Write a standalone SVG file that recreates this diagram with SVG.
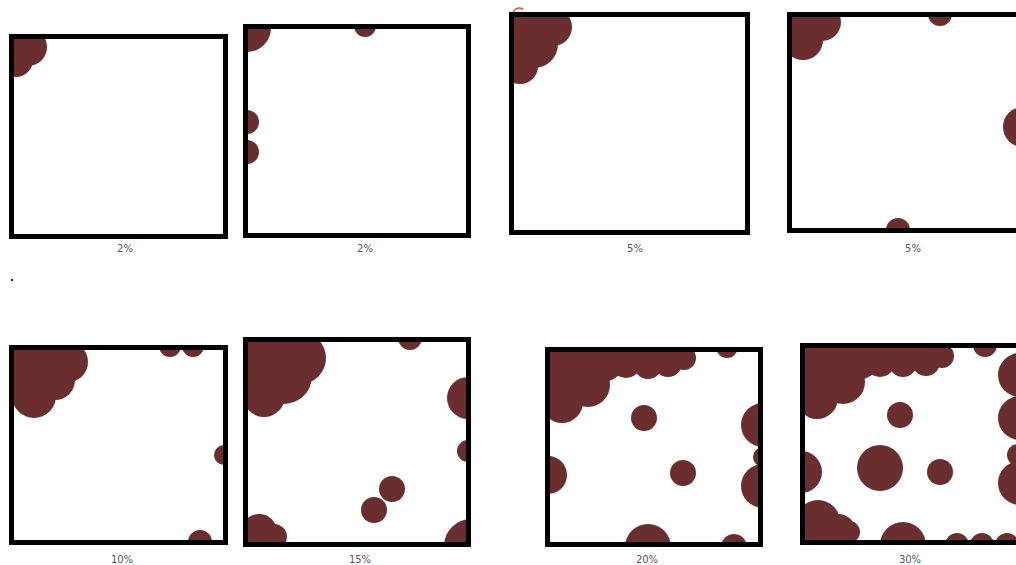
<svg xmlns="http://www.w3.org/2000/svg" width="1016" height="565" viewBox="0 0 1016 565">
<style>
.frame{fill:none;stroke:#000;stroke-width:5}
.b{fill:#6a2e2e}
.lbl{font-family:"DejaVu Sans","Liberation Sans",sans-serif;font-size:10px;fill:#555;text-anchor:middle}
</style>
<defs>
<clipPath id="c1"><rect x="11.5" y="36.5" width="214" height="200"/></clipPath>
<clipPath id="c2"><rect x="245.5" y="26.5" width="223" height="209"/></clipPath>
<clipPath id="c3"><rect x="511.5" y="14.5" width="236" height="218"/></clipPath>
<clipPath id="c4"><rect x="789.5" y="14.5" width="240" height="216"/></clipPath>
<clipPath id="c5"><rect x="11.5" y="347.5" width="214" height="195"/></clipPath>
<clipPath id="c6"><rect x="245.5" y="339.5" width="223" height="205"/></clipPath>
<clipPath id="c7"><rect x="547.5" y="349.5" width="213" height="195"/></clipPath>
<clipPath id="c8"><rect x="802.5" y="345.5" width="230" height="197"/></clipPath>
</defs>
<rect width="1016" height="565" fill="#fff"/>

<g id="panel-1">
<g clip-path="url(#c1)" class="b">
<circle cx="28" cy="47" r="19"/>
<circle cx="16" cy="60" r="17"/>
<rect x="9" y="34" width="20" height="20"/>
</g>
<rect class="frame" x="11.5" y="36.5" width="214" height="200"/>
<text class="lbl" x="125" y="252">2%</text>
</g>

<g id="panel-2">
<g clip-path="url(#c2)" class="b">
<circle cx="247" cy="28" r="24"/>
<circle cx="365" cy="26" r="11"/>
<circle cx="247" cy="122" r="12"/>
<circle cx="247" cy="152" r="12"/>
</g>
<rect class="frame" x="245.5" y="26.5" width="223" height="209"/>
<text class="lbl" x="365" y="252">2%</text>
</g>

<g id="panel-3">
<g clip-path="url(#c3)" class="b">
<circle cx="553" cy="27" r="19"/>
<circle cx="534" cy="44" r="24"/>
<circle cx="520" cy="66" r="18"/>
<rect x="509" y="12" width="30" height="30"/>
</g>
<rect class="frame" x="511.5" y="14.5" width="236" height="218"/>
<path d="M513 12 Q517 6 523 9" fill="none" stroke="#e05050" stroke-width="1.5"/>
<text class="lbl" x="635" y="252">5%</text>
</g>

<g id="panel-4">
<g clip-path="url(#c4)" class="b">
<circle cx="822" cy="22" r="19"/>
<circle cx="803" cy="40" r="20"/>
<rect x="787" y="12" width="25" height="25"/>
<circle cx="940" cy="14" r="12"/>
<circle cx="1023" cy="127" r="20"/>
<circle cx="898" cy="230" r="12"/>
</g>
<rect class="frame" x="789.5" y="14.5" width="240" height="216"/>
<text class="lbl" x="913" y="252">5%</text>
</g>

<circle id="dot" cx="12" cy="280" r="1.3" fill="#333"/>

<g id="panel-5">
<g clip-path="url(#c5)" class="b">
<circle cx="68" cy="362" r="20"/>
<circle cx="55" cy="380" r="20"/>
<circle cx="34" cy="396" r="22"/>
<rect x="9" y="345" width="60" height="50"/>
<circle cx="170" cy="346" r="11"/>
<circle cx="193" cy="346" r="11"/>
<circle cx="224" cy="455" r="10"/>
<circle cx="200" cy="542" r="12"/>
</g>
<rect class="frame" x="11.5" y="347.5" width="214" height="195"/>
<text class="lbl" x="122" y="563">10%</text>
</g>

<g id="panel-6">
<g clip-path="url(#c6)" class="b">
<circle cx="300" cy="358" r="26"/>
<circle cx="284" cy="376" r="28"/>
<circle cx="264" cy="396" r="21"/>
<rect x="243" y="337" width="60" height="50"/>
<circle cx="410" cy="338" r="12"/>
<circle cx="468" cy="398" r="21"/>
<circle cx="468" cy="451" r="11"/>
<circle cx="392" cy="489" r="13"/>
<circle cx="374" cy="510" r="13"/>
<circle cx="259" cy="532" r="18"/>
<circle cx="274" cy="537" r="13"/>
<circle cx="471" cy="546" r="27"/>
</g>
<rect class="frame" x="245.5" y="339.5" width="223" height="205"/>
<text class="lbl" x="360" y="563">15%</text>
</g>

<g id="panel-7">
<g clip-path="url(#c7)" class="b">
<circle cx="575" cy="365" r="33"/>
<circle cx="602" cy="358" r="24"/>
<circle cx="588" cy="385" r="22"/>
<circle cx="562" cy="402" r="21"/>
<circle cx="626" cy="363" r="15"/>
<circle cx="648" cy="365" r="14"/>
<circle cx="668" cy="363" r="14"/>
<circle cx="684" cy="358" r="12"/>
<rect x="545" y="347" width="140" height="14"/>
<circle cx="727" cy="347" r="11"/>
<circle cx="644" cy="418" r="13"/>
<circle cx="683" cy="473" r="13"/>
<circle cx="548" cy="475" r="19"/>
<circle cx="763" cy="425" r="22"/>
<circle cx="763" cy="457" r="10"/>
<circle cx="763" cy="486" r="22"/>
<circle cx="648" cy="547" r="23"/>
<circle cx="734" cy="547" r="13"/>
</g>
<rect class="frame" x="547.5" y="349.5" width="213" height="195"/>
<text class="lbl" x="647" y="563">20%</text>
</g>

<g id="panel-8">
<g clip-path="url(#c8)" class="b">
<circle cx="830" cy="362" r="33"/>
<circle cx="857" cy="356" r="24"/>
<circle cx="843" cy="382" r="22"/>
<circle cx="817" cy="398" r="21"/>
<circle cx="880" cy="362" r="15"/>
<circle cx="903" cy="363" r="14"/>
<circle cx="926" cy="362" r="14"/>
<circle cx="942" cy="356" r="12"/>
<rect x="800" y="343" width="142" height="14"/>
<circle cx="985" cy="345" r="12"/>
<circle cx="900" cy="415" r="13"/>
<circle cx="880" cy="468" r="23"/>
<circle cx="940" cy="472" r="13"/>
<circle cx="801" cy="472" r="21"/>
<circle cx="818" cy="522" r="22"/>
<circle cx="838" cy="532" r="18"/>
<circle cx="849" cy="532" r="11"/>
<circle cx="903" cy="545" r="23"/>
<circle cx="957" cy="545" r="12"/>
<circle cx="982" cy="545" r="12"/>
<circle cx="1007" cy="545" r="12"/>
<circle cx="1020" cy="375" r="22"/>
<circle cx="1020" cy="418" r="22"/>
<circle cx="1018" cy="455" r="11"/>
<circle cx="1020" cy="483" r="22"/>
</g>
<rect class="frame" x="802.5" y="345.5" width="230" height="197"/>
<text class="lbl" x="910" y="563">30%</text>
</g>
</svg>
